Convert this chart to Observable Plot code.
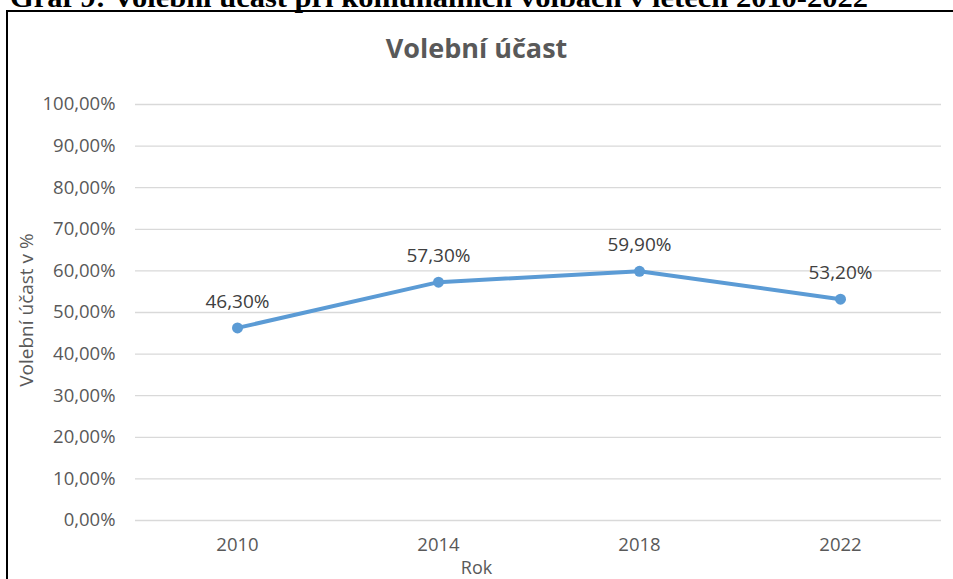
<!DOCTYPE html>
<html>
<head>
<meta charset="utf-8">
<script src="https://cdn.jsdelivr.net/npm/d3@7"></script>
<script src="https://cdn.jsdelivr.net/npm/@observablehq/plot@0.6"></script>
<style>
  html, body { margin: 0; padding: 0; background: #fff; overflow: hidden; }
  #wrap { position: relative; width: 953px; height: 579px; overflow: hidden; font-family: "Open Sans", sans-serif; }
  #caption { position: absolute; left: 0; top: 0; }
  #box { position: absolute; left: 6px; top: 10px; width: 1200px; height: 800px; border-left: 2.5px solid #000; border-top: 2.5px solid #000; box-sizing: border-box; }
  #title { position: absolute; left: 0; width: 953px; top: 34px; line-height: 27px; text-align: center; font-size: 27px; font-weight: bold; color: #595959; }
  #chart { position: absolute; left: 0; top: 0; }
  #ylab { position: absolute; left: 26px; top: 310px; line-height: 19px; transform: translate(-50%, -50%) rotate(-90deg); white-space: nowrap; font-size: 19px; color: #595959; }
  #xlab { position: absolute; left: 0; width: 953px; top: 558px; line-height: 18px; text-align: center; font-size: 18px; color: #595959; }
</style>
</head>
<body>
<div id="wrap">
  <svg id="caption" width="953" height="14"><text x="10" y="7" font-family="Liberation Serif, serif" font-weight="bold" font-size="27" textLength="858" lengthAdjust="spacingAndGlyphs">Graf 9: Volební účast při komunálních volbách v letech 2010-2022</text></svg>
  <div id="box"></div>
  <div id="title">Volební účast</div>
  <div id="chart"></div>
  <div id="ylab">Volební účast v %</div>
  <div id="xlab">Rok</div>
</div>
<script>
const years = ["2010", "2014", "2018", "2022"];
const turnout = [0.463, 0.573, 0.599, 0.532];
const yTicks = [0, 0.1, 0.2, 0.3, 0.4, 0.5, 0.6, 0.7, 0.8, 0.9, 1.0];

const data = years.map((y, i) => ({year: y, value: turnout[i]}));
const fmt = d => (d * 100).toFixed(2).replace(".", ",") + "%";

const chart = Plot.plot({
  width: 953,
  height: 579,
  marginLeft: 135,
  marginRight: 12,
  marginTop: 104,
  marginBottom: 59,
  style: {fontFamily: "Open Sans, sans-serif", background: "transparent", color: "#595959"},
  x: {type: "point", domain: years, padding: 0.5, label: null},
  y: {domain: [0, 1], label: null},
  marks: [
    Plot.ruleY(yTicks, {stroke: "#d9d9d9", strokeWidth: 1.3}),
    Plot.axisY(yTicks, {tickSize: 0, tickPadding: 20, tickFormat: fmt, fontSize: 18.5, fill: "#595959", label: null}),
    Plot.axisX({tickSize: 0, tickPadding: 17, fontSize: 18.5, fill: "#595959", label: null}),
    Plot.line(data, {x: "year", y: "value", stroke: "#5b9bd5", strokeWidth: 4, strokeLinecap: "round", strokeLinejoin: "round"}),
    Plot.dot(data, {x: "year", y: "value", r: 5.5, fill: "#5b9bd5", stroke: "none"}),
    Plot.text(data, {x: "year", y: "value", text: d => fmt(d.value), dy: -26, fontSize: 19, fill: "#404040"})
  ]
});
document.getElementById("chart").appendChild(chart);
</script>
</body>
</html>
